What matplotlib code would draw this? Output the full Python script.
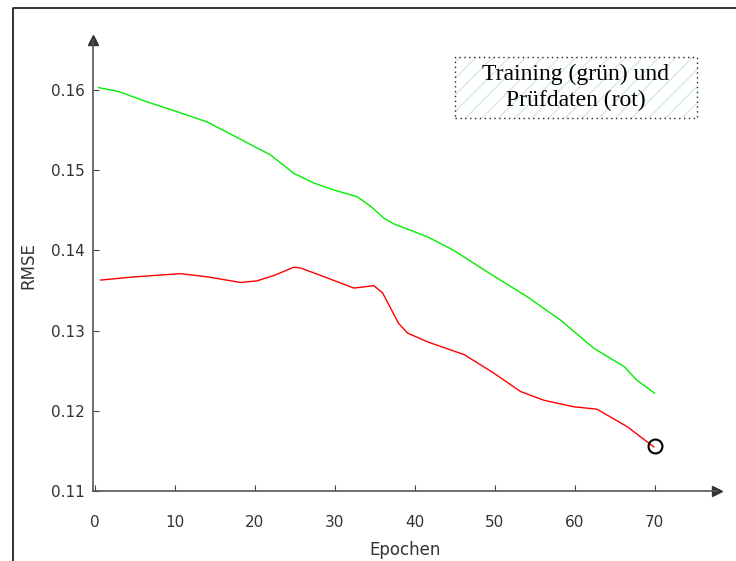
import matplotlib
matplotlib.use("Agg")
import matplotlib.pyplot as plt
from matplotlib.patches import Rectangle
from matplotlib.lines import Line2D

# Training (green)
train_epochs = [0.5, 3, 6.6, 10, 14.1, 17, 19.1, 22, 24.9, 27.4, 30, 32.8, 34.5,
                36.2, 37.4, 41.6, 44.9, 49.1, 54.1, 58.25, 62.4, 66.2, 67.8, 70]
train_rmse = [0.1603, 0.1598, 0.1585, 0.1574, 0.1560, 0.1545, 0.1534, 0.1519,
              0.1496, 0.1484, 0.1475, 0.1467, 0.1455, 0.1440, 0.1433, 0.1417,
              0.1400, 0.1373, 0.1342, 0.1313, 0.1278, 0.1255, 0.1238, 0.1222]

# Test data (red)
test_epochs = [0.75, 5, 10.75, 14.1, 18.25, 20.3, 22.5, 24.9, 25.75, 29, 32.4,
               34.9, 36, 38, 39.1, 41.6, 46.2, 49.9, 53.25, 56.2, 59.9, 62.8,
               66.6, 69.9]
test_rmse = [0.1363, 0.1367, 0.1371, 0.1367, 0.1360, 0.1362, 0.1369, 0.1379,
             0.1378, 0.1366, 0.1353, 0.1356, 0.1347, 0.1309, 0.1297, 0.1286,
             0.1270, 0.1247, 0.1224, 0.1213, 0.1205, 0.1202, 0.1180, 0.1155]

best_epoch = 70
best_rmse = 0.1156

x_ticks = [0, 10, 20, 30, 40, 50, 60, 70]
y_ticks = [0.11, 0.12, 0.13, 0.14, 0.15, 0.16]

plt.rcParams['font.family'] = 'DejaVu Sans'
fig = plt.figure(figsize=(7.36, 5.61), dpi=100)
ax = fig.add_axes([93 / 736, 1 - 491 / 561, (717 - 93) / 736, (491 - 40) / 561])

ax.plot(train_epochs, train_rmse, color='#00ee00', lw=1.0)
ax.plot(test_epochs, test_rmse, color='#ff0000', lw=1.0)
ax.plot(best_epoch, best_rmse, 'o', mfc='none', mec='black', ms=10, mew=1.5)

ax.set_xlim(-0.2, 77.8)
ax.set_ylim(0.11, 0.16623)
ax.set_xticks(x_ticks)
ax.set_yticks(y_ticks)
ax.set_yticklabels(['%.2f' % v for v in y_ticks])
ax.tick_params(direction='in', length=4, color='#444444', labelsize=11,
               labelcolor='#333333', pad=6)
ax.tick_params(axis='x', pad=17)

for s in ['top', 'right']:
    ax.spines[s].set_visible(False)
for s in ['left', 'bottom']:
    ax.spines[s].set_color('#555555')
    ax.spines[s].set_linewidth(1.2)

# arrow heads at the axis ends
ax.plot(1, 0, '>', color='#333333', ms=7, transform=ax.transAxes, clip_on=False)
ax.plot(0, 1, '^', color='#333333', ms=7, transform=ax.transAxes, clip_on=False)

ax.set_xlabel('Epochen', fontsize=12, color='#333333', labelpad=8)
ax.set_ylabel('RMSE', fontsize=12, color='#333333', labelpad=10)

# legend-like text box
bx0, by0, bw, bh = 455 / 736, 1 - 118 / 561, 242 / 736, 61 / 561
plt.rcParams['hatch.linewidth'] = 1.0
fig.patches.append(Rectangle((bx0, by0), bw, bh, transform=fig.transFigure,
                             fc='white', ec='#d4eaf0', lw=0, hatch='//'))
fig.patches.append(Rectangle((bx0, by0), bw, bh, transform=fig.transFigure,
                             fc='none', ec='#222222', lw=1.0, ls=(0, (1, 2.5))))
fig.text(bx0 + bw / 2, by0 + bh / 2, 'Training (grün) und\nPrüfdaten (rot)',
         ha='center', va='center', fontsize=17, family='Liberation Serif',
         linespacing=1.32)

# partial frame around the figure (top and left)
fig.lines.append(Line2D([13 / 736, 13 / 736, 1], [0, 1 - 8 / 561, 1 - 8 / 561],
                        transform=fig.transFigure, color='#222222', lw=1.3))

fig.savefig('out.png', dpi=100)
